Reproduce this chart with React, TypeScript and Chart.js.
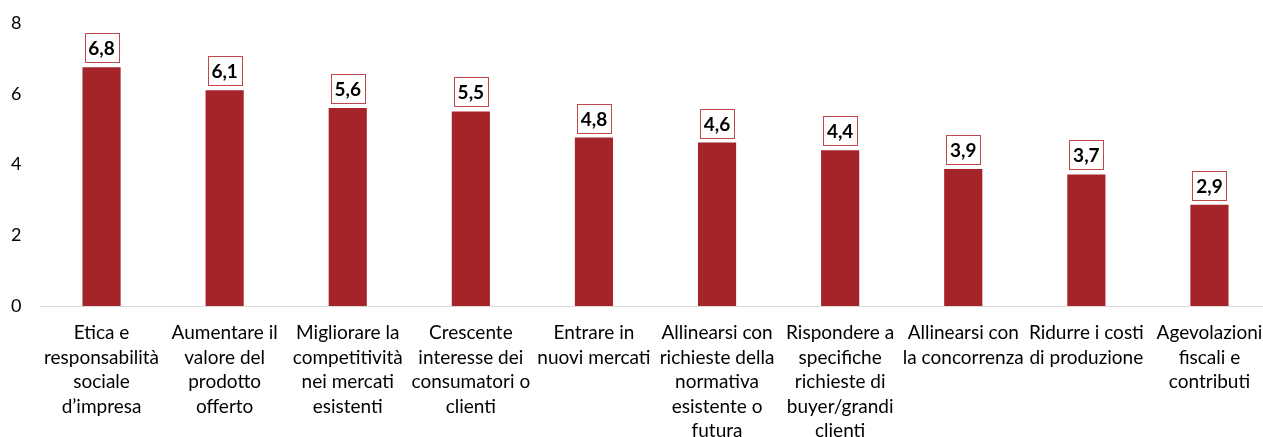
import React, { useEffect, useRef } from "react";
import { Chart, registerables } from "chart.js";

Chart.register(...registerables);

const categories: string[][] = [
  ["Etica e", "responsabilità", "sociale", "d’impresa"],
  ["Aumentare il", "valore del", "prodotto", "offerto"],
  ["Migliorare la", "competitività", "nei mercati", "esistenti"],
  ["Crescente", "interesse dei", "consumatori o", "clienti"],
  ["Entrare in", "nuovi mercati"],
  ["Allinearsi con", "richieste della", "normativa", "esistente o", "futura"],
  ["Rispondere a", "specifiche", "richieste di", "buyer/grandi", "clienti"],
  ["Allinearsi con", "la concorrenza"],
  ["Ridurre i costi", "di produzione"],
  ["Agevolazioni", "fiscali e", "contributi"],
];

const values: number[] = [6.75, 6.1, 5.6, 5.5, 4.76, 4.62, 4.4, 3.87, 3.72, 2.86];

const yTicks: number[] = [0, 2, 4, 6, 8];

const FONT = "Lato, 'Open Sans', sans-serif";
const BAR_COLOR = "#A5242A";
const LABEL_BORDER = "#C0474A";

const fmt = (v: number) => (Math.round(v * 10) / 10).toFixed(1).replace(".", ",");

const boxLabels = {
  id: "boxLabels",
  afterDatasetsDraw(chart: any) {
    const ctx = chart.ctx;
    const meta = chart.getDatasetMeta(0);
    ctx.save();
    ctx.font = `bold 19px ${FONT}`;
    ctx.textAlign = "center";
    ctx.textBaseline = "middle";
    meta.data.forEach((bar: any, i: number) => {
      const text = fmt(values[i]);
      const w = Math.round(ctx.measureText(text).width + 8);
      const h = 29;
      const x = bar.x;
      const bottom = Math.round(bar.y - 5);
      const left = Math.round(x - w / 2);
      ctx.fillStyle = "#ffffff";
      ctx.fillRect(left, bottom - h, w, h);
      ctx.strokeStyle = LABEL_BORDER;
      ctx.lineWidth = 1;
      ctx.strokeRect(left + 0.5, bottom - h + 0.5, w, h);
      ctx.fillStyle = "#000000";
      ctx.fillText(text, x, bottom - h / 2 + 1);
    });
    ctx.restore();
  },
};

export default function App() {
  const ref = useRef<HTMLCanvasElement | null>(null);
  useEffect(() => {
    if (!ref.current) return;
    const chart = new Chart(ref.current, {
      type: "bar",
      data: {
        labels: categories,
        datasets: [
          {
            data: values,
            backgroundColor: BAR_COLOR,
            categoryPercentage: 1,
            barPercentage: 0.31,
          },
        ],
      },
      options: {
        responsive: false,
        animation: false,
        layout: { padding: { top: 23, right: 0, left: 11, bottom: 0 } },
        plugins: { legend: { display: false }, tooltip: { enabled: false } },
        scales: {
          x: {
            grid: { display: false },
            border: { display: true, color: "#D9D9D9", width: 1 },
            ticks: {
              color: "#000000",
              font: { family: FONT, size: 19, lineHeight: 1.29 },
              padding: 7,
              maxRotation: 0,
              autoSkip: false,
            },
            afterFit: (s: any) => {
              s.height = 131;
            },
          },
          y: {
            min: 0,
            max: 8,
            afterBuildTicks: (s: any) => {
              s.ticks = yTicks.map((v) => ({ value: v }));
            },
            grid: { display: false },
            border: { display: false },
            ticks: {
              color: "#000000",
              font: { family: FONT, size: 18 },
              padding: 0,
              crossAlign: "far",
            },
            afterFit: (s: any) => {
              s.width = 29;
            },
          },
        },
      },
      plugins: [boxLabels],
    });
    return () => chart.destroy();
  }, []);
  return (
    <div style={{ position: "fixed", left: 0, top: 0, width: 1263, height: 437, overflow: "hidden", background: "#fff" }}>
      <canvas ref={ref} width={1271} height={437} style={{ display: "block" }} />
    </div>
  );
}
